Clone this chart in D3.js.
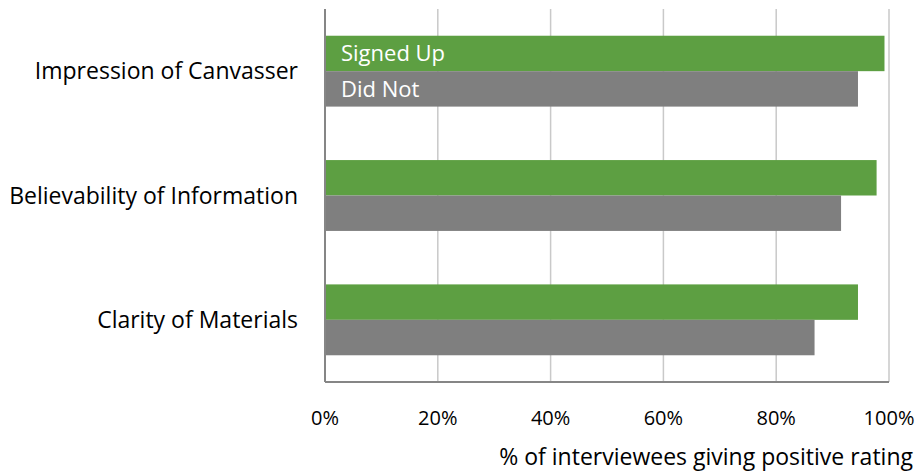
<!DOCTYPE html>
<html>
<head>
<meta charset="utf-8">
<script src="https://cdn.jsdelivr.net/npm/d3@7"></script>
<style>
  body { margin: 0; background: #fff; }
  text { font-family: "Open Sans", "Noto Sans", sans-serif; fill: #000; }
</style>
</head>
<body>
<div id="chart"></div>
<script>
// data
var categories = ["Impression of Canvasser", "Believability of Information", "Clarity of Materials"];
var seriesNames = ["Signed Up", "Did Not"];
var signedUp = [0.992, 0.978, 0.945];
var didNot = [0.945, 0.915, 0.868];
var ticks = [0, 0.2, 0.4, 0.6, 0.8, 1];

var width = 919, height = 473;
var margin = { top: 9, right: 30, bottom: 91, left: 325 };

var svg = d3.select("#chart").append("svg")
    .attr("width", width)
    .attr("height", height);

var x = d3.scaleLinear().domain([0, 1]).range([margin.left, 889]);

var y = d3.scaleBand()
    .domain(categories)
    .range([margin.top, height - margin.bottom])
    .paddingInner(0.43)
    .paddingOuter(0.215);

var ySub = d3.scaleBand().domain(seriesNames).range([0, y.bandwidth()]);

var colors = { "Signed Up": "#5d9f42", "Did Not": "#7f7f7f" };

var rows = categories.map(function (c, i) {
    return { cat: c, values: [
        { name: "Signed Up", v: signedUp[i] },
        { name: "Did Not", v: didNot[i] }
    ] };
});

// gridlines
svg.append("g")
    .selectAll("line")
    .data(ticks.slice(1))
    .enter().append("line")
    .attr("x1", function (d) { return x(d); })
    .attr("x2", function (d) { return x(d); })
    .attr("y1", margin.top)
    .attr("y2", height - margin.bottom)
    .attr("stroke", "#c9c9c9")
    .attr("stroke-width", 1.5);

// bars
var group = svg.append("g")
    .selectAll("g")
    .data(rows)
    .enter().append("g")
    .attr("transform", function (d) { return "translate(0," + y(d.cat) + ")"; });

group.selectAll("rect")
    .data(function (d) { return d.values; })
    .enter().append("rect")
    .attr("x", x(0))
    .attr("y", function (d) { return ySub(d.name); })
    .attr("width", function (d) { return x(d.v) - x(0); })
    .attr("height", ySub.bandwidth())
    .attr("fill", function (d) { return colors[d.name]; });

// series labels inside the first pair of bars
svg.append("g")
    .selectAll("text")
    .data(seriesNames)
    .enter().append("text")
    .attr("x", x(0) + 16)
    .attr("y", function (d) { return y(categories[0]) + ySub(d) + ySub.bandwidth() / 2; })
    .attr("dy", "0.35em")
    .style("font-size", "22px")
    .style("fill", "#fff")
    .text(function (d) { return d; });

// axes lines
svg.append("line")
    .attr("x1", x(0)).attr("x2", x(0))
    .attr("y1", margin.top).attr("y2", height - margin.bottom)
    .attr("stroke", "#868686").attr("stroke-width", 2);
svg.append("line")
    .attr("x1", x(0)).attr("x2", x(1))
    .attr("y1", height - margin.bottom).attr("y2", height - margin.bottom)
    .attr("stroke", "#868686").attr("stroke-width", 2);

// category labels
svg.append("g")
    .selectAll("text")
    .data(categories)
    .enter().append("text")
    .attr("x", x(0) - 27)
    .attr("y", function (d) { return y(d) + y.bandwidth() / 2; })
    .attr("dy", "0.35em")
    .attr("text-anchor", "end")
    .style("font-size", "23px")
    .text(function (d) { return d; });

// tick labels
svg.append("g")
    .selectAll("text")
    .data(ticks)
    .enter().append("text")
    .attr("x", function (d) { return x(d); })
    .attr("y", 418)
    .attr("dy", "0.35em")
    .attr("text-anchor", "middle")
    .style("font-size", "20px")
    .text(d3.format(".0%"));

// axis title
svg.append("text")
    .attr("x", 913)
    .attr("y", 457)
    .attr("dy", "0.35em")
    .attr("text-anchor", "end")
    .style("font-size", "23px")
    .text("% of interviewees giving positive rating");
</script>
</body>
</html>
